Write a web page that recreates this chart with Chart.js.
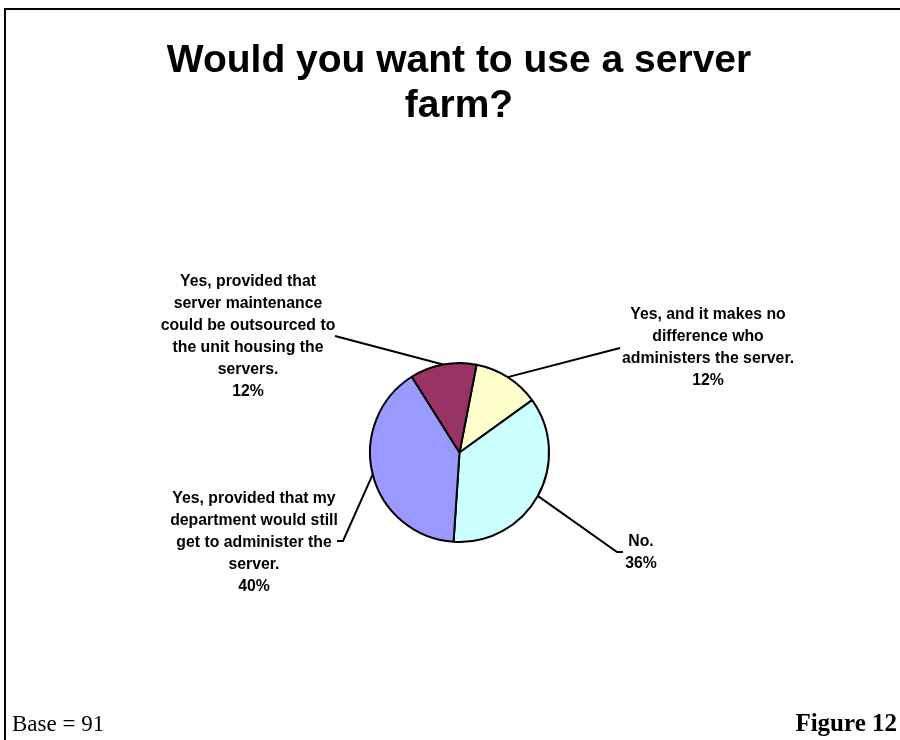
<!DOCTYPE html>
<html>
<head>
<meta charset="utf-8">
<title>Would you want to use a server farm?</title>
<script src="https://cdn.jsdelivr.net/npm/chart.js@4.4.1/dist/chart.umd.min.js"></script>
<style>
  html, body { margin: 0; padding: 0; background: #ffffff; overflow: hidden; }
  #page { position: relative; width: 900px; height: 740px; overflow: hidden; }
  #frame {
    position: absolute; left: 4px; top: 8px; width: 1000px; height: 1000px;
    border-left: 2px solid #000; border-top: 2px solid #000;
  }
  #chart { position: absolute; left: 0; top: 0; }
</style>
</head>
<body>
<div id="page">
  <div id="frame"></div>
  <canvas id="chart" width="900" height="740"></canvas>
</div>
<script>
// Survey answers, wrapped the way they are printed beside the pie
const categories = [
  ['Yes, and it makes no', 'difference who', 'administers the server.'],
  ['No.'],
  ['Yes, provided that my', 'department would still', 'get to administer the', 'server.'],
  ['Yes, provided that', 'server maintenance', 'could be outsourced to', 'the unit housing the', 'servers.']
];
// Share of respondents (%)
const percentages = [12, 36, 40, 12];
const baseCount = 91;
const titleLines = ['Would you want to use a server', 'farm?'];
const figureLabel = 'Figure 12';

const sliceColors = ['#FFFFCC', '#CCFFFF', '#9999FF', '#993366'];

// Where each callout's text block sits and the elbow of its leader line
const calloutLayout = [
  { cx: 708, top: 315, path: [[620, 348]] },
  { cx: 641, top: 542, path: [[617, 552], [623, 552]] },
  { cx: 254, top: 499, path: [[343, 541], [337, 541]] },
  { cx: 248, top: 282, path: [[335, 336]] }
];

const LABEL_FONT = 'bold 15.8px "Liberation Sans", Arial, sans-serif';
const LABEL_LINE = 22;

const decorations = {
  id: 'decorations',
  afterDraw(chart) {
    const ctx = chart.ctx;
    const meta = chart.getDatasetMeta(0);
    ctx.save();

    // title
    ctx.fillStyle = '#000';
    ctx.textAlign = 'center';
    ctx.textBaseline = 'alphabetic';
    ctx.font = 'bold 39px "Liberation Sans", Arial, sans-serif';
    ctx.fillText(titleLines[0], 459, 72);
    ctx.fillText(titleLines[1], 459, 117);

    // leader lines and callout text
    meta.data.forEach((arc, i) => {
      const p = arc.getProps(['x', 'y', 'startAngle', 'endAngle', 'outerRadius'], true);
      const mid = (p.startAngle + p.endAngle) / 2;
      const sx = p.x + Math.cos(mid) * p.outerRadius;
      const sy = p.y + Math.sin(mid) * p.outerRadius;
      const lay = calloutLayout[i];

      ctx.beginPath();
      ctx.moveTo(sx, sy);
      lay.path.forEach(([px, py]) => ctx.lineTo(px, py));
      ctx.strokeStyle = '#000';
      ctx.lineWidth = 2;
      ctx.stroke();

      const lines = chart.data.labels[i].concat([chart.data.datasets[0].data[i] + '%']);
      ctx.font = LABEL_FONT;
      ctx.textAlign = 'center';
      ctx.textBaseline = 'middle';
      ctx.fillStyle = '#000';
      lines.forEach((t, k) => ctx.fillText(t, lay.cx, lay.top + k * LABEL_LINE));
    });

    // footer
    ctx.textBaseline = 'alphabetic';
    ctx.textAlign = 'left';
    ctx.font = '23px "Liberation Serif", "Times New Roman", serif';
    ctx.fillText('Base = ' + baseCount, 12, 731);
    ctx.textAlign = 'right';
    ctx.font = 'bold 25px "Liberation Serif", "Times New Roman", serif';
    ctx.fillText(figureLabel, 897, 731);

    ctx.restore();
  }
};

new Chart(document.getElementById('chart'), {
  type: 'pie',
  data: {
    labels: categories,
    datasets: [{
      data: percentages,
      backgroundColor: sliceColors,
      borderColor: '#000',
      borderWidth: 2,
      hoverOffset: 0,
      offset: 0
    }]
  },
  options: {
    responsive: false,
    animation: false,
    events: [],
    rotation: 11,
    radius: 89.5,
    layout: { padding: { left: 219, right: 200, top: 265, bottom: 100 } },
    plugins: {
      legend: { display: false },
      title: { display: false },
      tooltip: { enabled: false }
    }
  },
  plugins: [decorations]
});
</script>
</body>
</html>
